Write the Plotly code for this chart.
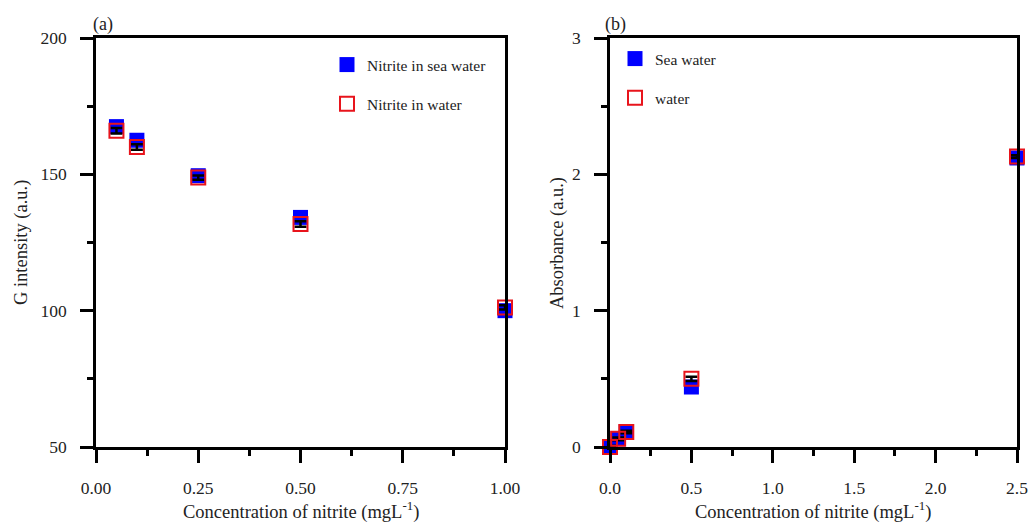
import plotly.graph_objects as go

# Panel (a): G intensity vs nitrite concentration
conc_a = [0.05, 0.1, 0.25, 0.5, 1.0]
g_sea = [167.5, 162.5, 149.5, 134.2, 100.0]
g_water = [166.0, 160.0, 148.8, 131.8, 101.2]
g_err = [1.0, 1.0, 0.8, 1.0, 0.8]

# Panel (b): absorbance vs nitrite concentration
conc_b = [0.0, 0.05, 0.1, 0.5, 2.5]
abs_sea = [0.0, 0.06, 0.11, 0.44, 2.12]
abs_water = [0.0, 0.06, 0.11, 0.50, 2.13]
abs_err = [0.01, 0.01, 0.01, 0.015, 0.01]

X_TITLE = "Concentration of nitrite (mgL<sup>-1</sup>)"
Y_TITLE_A = "G intensity (a.u.)"
Y_TITLE_B = "Absorbance (a.u.)"

FONT = "Liberation Serif"
BLUE = "#0000ff"
RED = "#e8141c"
TXT = "#222"

fig = go.Figure()

fig.add_trace(go.Scatter(
    x=conc_a, y=g_sea, mode="markers", name="Nitrite in sea water",
    marker=dict(symbol="square", size=15, color=BLUE),
    xaxis="x", yaxis="y", legend="legend", legendgroup="a1", cliponaxis=False))
fig.add_trace(go.Scatter(
    x=conc_a, y=g_water, mode="markers", name="Nitrite in water",
    marker=dict(symbol="square-open", size=14, color=RED, line=dict(width=2, color=RED)),
    error_y=dict(type="data", array=g_err, color="black", thickness=2.5, width=6),
    xaxis="x", yaxis="y", legend="legend", legendgroup="a2", cliponaxis=False))

fig.add_trace(go.Scatter(
    x=conc_b, y=abs_sea, mode="markers", name="Sea water",
    marker=dict(symbol="square", size=15, color=BLUE),
    xaxis="x2", yaxis="y2", legend="legend2", legendgroup="b1", cliponaxis=False))
fig.add_trace(go.Scatter(
    x=conc_b, y=abs_water, mode="markers", name="water",
    marker=dict(symbol="square-open", size=14, color=RED, line=dict(width=2, color=RED)),
    error_y=dict(type="data", array=abs_err, color="black", thickness=2.5, width=6),
    xaxis="x2", yaxis="y2", legend="legend2", legendgroup="b2", cliponaxis=False))

axis_common = dict(
    showline=True, linecolor="black", linewidth=2.5, mirror=True,
    ticks="outside", ticklen=13, tickwidth=2.5, tickcolor="black",
    showgrid=False, zeroline=False, automargin=False,
    tickfont=dict(family=FONT, size=17.5, color=TXT),
)
minor_common = dict(ticks="outside", ticklen=6, tickwidth=2.5, tickcolor="black")
title_font = dict(family=FONT, size=18.5, color=TXT)

ytop = 1 - 38 / 523
ybot = 1 - 447 / 523


def px_x(v):
    return v / 1034


def px_y(v):
    return 1 - v / 523


fig.update_layout(
    width=1034, height=523,
    margin=dict(l=0, r=0, t=0, b=0),
    paper_bgcolor="white", plot_bgcolor="white",
    font=dict(family=FONT, size=18, color=TXT),
    xaxis=dict(domain=[px_x(96), px_x(505)], range=[0, 1], tickvals=[0, 0.25, 0.5, 0.75, 1.0],
               ticktext=["0.00", "0.25", "0.50", "0.75", "1.00"], anchor="y", ticklabelstandoff=10,
               minor=dict(dtick=0.125, **minor_common), **axis_common),
    yaxis=dict(domain=[ybot, ytop], range=[50, 200], tickvals=[50, 100, 150, 200], anchor="x",
               ticklabelstandoff=10, minor=dict(dtick=25, **minor_common), **axis_common),
    xaxis2=dict(domain=[px_x(610), px_x(1017)], range=[0, 2.5], tickvals=[0, 0.5, 1.0, 1.5, 2.0, 2.5],
                ticktext=["0.0", "0.5", "1.0", "1.5", "2.0", "2.5"], anchor="y2", ticklabelstandoff=10,
                minor=dict(dtick=0.25, **minor_common), **axis_common),
    yaxis2=dict(domain=[ybot, ytop], range=[0, 3], tickvals=[0, 1, 2, 3], anchor="x2",
                ticklabelstandoff=10, minor=dict(dtick=0.5, **minor_common), **axis_common),
    legend=dict(x=px_x(327), y=px_y(48), xanchor="left", yanchor="top",
                bgcolor="rgba(0,0,0,0)", font=dict(family=FONT, size=15.5, color=TXT),
                traceorder="grouped", tracegroupgap=16),
    legend2=dict(x=px_x(615), y=px_y(42), xanchor="left", yanchor="top",
                 bgcolor="rgba(0,0,0,0)", font=dict(family=FONT, size=15.5, color=TXT),
                 traceorder="grouped", tracegroupgap=16),
    annotations=[
        dict(text="(a)", x=px_x(103), y=px_y(24), xref="paper", yref="paper",
             xanchor="center", yanchor="middle", showarrow=False, font=dict(family=FONT, size=18, color=TXT)),
        dict(text="(b)", x=px_x(615), y=px_y(24), xref="paper", yref="paper",
             xanchor="center", yanchor="middle", showarrow=False, font=dict(family=FONT, size=18, color=TXT)),
        dict(text=X_TITLE, x=px_x(301), y=px_y(510), xref="paper", yref="paper",
             xanchor="center", yanchor="middle", showarrow=False, font=title_font),
        dict(text=X_TITLE, x=px_x(813), y=px_y(510), xref="paper", yref="paper",
             xanchor="center", yanchor="middle", showarrow=False, font=title_font),
        dict(text=Y_TITLE_A, x=px_x(21), y=px_y(243), xref="paper", yref="paper", textangle=-90,
             xanchor="center", yanchor="middle", showarrow=False, font=title_font),
        dict(text=Y_TITLE_B, x=px_x(557), y=px_y(243), xref="paper", yref="paper", textangle=-90,
             xanchor="center", yanchor="middle", showarrow=False, font=title_font),
    ],
)

fig.write_html("out.html", config={"displayModeBar": False},
               post_script="document.body.style.margin='0';document.body.style.overflow='hidden';")
